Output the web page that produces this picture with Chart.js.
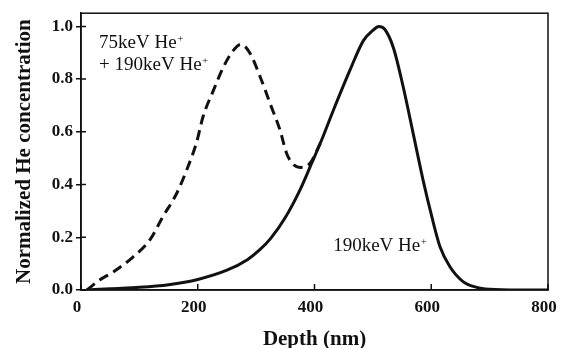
<!DOCTYPE html>
<html>
<head>
<meta charset="utf-8">
<script src="https://cdn.jsdelivr.net/npm/chart.js@4"></script>
<style>
  html, body { margin: 0; padding: 0; background: #fff; }
  #wrap { width: 561px; height: 348px; }
</style>
</head>
<body>
<div id="wrap"><canvas id="depthChart"></canvas></div>
<script>
  // Depth profiles (nm vs normalized He concentration).
  var singleDepth = [10, 50, 100, 150, 200, 250, 285, 305, 325, 350, 375, 395, 412, 432, 460, 484, 500, 510, 520, 535, 552, 569, 586, 601, 615, 632, 655, 678, 700, 750, 800];
  var singleConc = [0.0, 0.005, 0.01, 0.02, 0.04, 0.075, 0.115, 0.15, 0.196, 0.275, 0.379, 0.48, 0.568, 0.68, 0.83, 0.947, 0.985, 1.0, 0.99, 0.92, 0.77, 0.594, 0.417, 0.278, 0.164, 0.088, 0.031, 0.01, 0.003, 0.0, 0.0];

  var dualDepth = [10, 32, 55, 89, 118, 140, 164, 181, 198, 209, 227, 244, 261, 274, 289, 307, 324, 341, 352, 362, 375, 392, 410];
  var dualConc = [0.0, 0.038, 0.068, 0.125, 0.19, 0.277, 0.367, 0.455, 0.56, 0.657, 0.758, 0.846, 0.909, 0.932, 0.9, 0.808, 0.707, 0.606, 0.52, 0.48, 0.465, 0.48, 0.556];

  var xTicks = [0, 200, 400, 600, 800];
  var yTicks = [0, 0.2, 0.4, 0.6, 0.8, 1.0];

  // Text labels placed in data coordinates: [depth, conc, main text]
  var labels = [
    [31, 0.918, "75keV He"],
    [31, 0.833, "+ 190keV He"],
    [432, 0.148, "190keV He"]
  ];

  var SERIF = "'Liberation Serif', 'Times New Roman', serif";

  function toPoints(xs, ys) {
    return xs.map(function (x, i) { return { x: x, y: ys[i] }; });
  }

  // Frame box + inward tick marks (ticks at both axes, drawn from the scales).
  var framePlugin = {
    id: "frame",
    afterDraw: function (chart) {
      var a = chart.chartArea, ctx = chart.ctx;
      var xs = chart.scales.x, ys = chart.scales.y;
      ctx.save();
      ctx.strokeStyle = "#111";
      ctx.lineWidth = 1.5;
      ctx.strokeRect(a.left, a.top, a.right - a.left, a.bottom - a.top);
      ctx.beginPath();
      xTicks.forEach(function (v) {
        var px = xs.getPixelForValue(v);
        ctx.moveTo(px, a.bottom);
        ctx.lineTo(px, a.bottom - 6);
      });
      yTicks.forEach(function (v) {
        var py = ys.getPixelForValue(v);
        ctx.moveTo(a.left, py);
        ctx.lineTo(a.left + 5, py);
      });
      ctx.stroke();
      ctx.restore();
    }
  };

  // Curve labels with a superscript "+".
  var labelPlugin = {
    id: "curveLabels",
    afterDatasetsDraw: function (chart) {
      var ctx = chart.ctx, xs = chart.scales.x, ys = chart.scales.y;
      ctx.save();
      ctx.fillStyle = "#111";
      ctx.textBaseline = "alphabetic";
      ctx.textAlign = "left";
      labels.forEach(function (l) {
        var px = xs.getPixelForValue(l[0]);
        var py = ys.getPixelForValue(l[1]);
        ctx.font = "19px " + SERIF;
        ctx.fillText(l[2], px, py);
        var w = ctx.measureText(l[2]).width;
        ctx.font = "11px " + SERIF;
        ctx.fillText("+", px + w + 0.5, py - 6);
      });
      ctx.restore();
    }
  };

  new Chart(document.getElementById("depthChart").getContext("2d"), {
    type: "line",
    data: {
      datasets: [{
        label: "190keV He+",
        data: toPoints(singleDepth, singleConc),
        borderColor: "#111",
        borderWidth: 3,
        pointRadius: 0,
        cubicInterpolationMode: "monotone",
        fill: false
      }, {
        label: "75keV He+ + 190keV He+",
        data: toPoints(dualDepth, dualConc),
        borderColor: "#111",
        borderWidth: 3,
        borderDash: [10, 6],
        pointRadius: 0,
        cubicInterpolationMode: "monotone",
        fill: false
      }]
    },
    options: {
      responsive: true,
      maintainAspectRatio: false,
      animation: false,
      layout: { padding: { top: 13, right: 13, left: 0, bottom: 0 } },
      plugins: { legend: { display: false }, tooltip: { enabled: false } },
      scales: {
        x: {
          type: "linear",
          min: 0, max: 800,
          afterFit: function (s) { s.height = 58; },
          afterBuildTicks: function (s) { s.ticks = xTicks.map(function (v) { return { value: v }; }); },
          grid: { display: false },
          border: { display: true, color: "#111", width: 1.5 },
          ticks: {
            color: "#111", padding: -1, maxRotation: 0, labelOffset: -4,
            font: { family: SERIF, size: 17, weight: "bold" }
          },
          title: {
            display: true, text: "Depth (nm)", color: "#111",
            padding: { top: 0, bottom: 0 },
            font: { family: SERIF, size: 21, weight: "bold", lineHeight: 0.8 }
          }
        },
        y: {
          type: "linear",
          min: 0, max: 1.05,
          afterFit: function (s) { s.width = 81; },
          afterBuildTicks: function (s) { s.ticks = yTicks.map(function (v) { return { value: v }; }); },
          grid: {
            display: true, drawOnChartArea: false, drawTicks: true,
            tickLength: 5, color: "#111", lineWidth: 1.5
          },
          border: { display: true, color: "#111", width: 1.5 },
          ticks: {
            color: "#111", padding: 3,
            font: { family: SERIF, size: 17, weight: "bold" },
            callback: function (v) { return Number(v).toFixed(1); }
          },
          title: {
            display: true, text: "Normalized He concentration", color: "#111",
            padding: { top: 12, bottom: 0 },
            font: { family: SERIF, size: 21, weight: "bold" }
          }
        }
      }
    },
    plugins: [framePlugin, labelPlugin]
  });
</script>
</body>
</html>
